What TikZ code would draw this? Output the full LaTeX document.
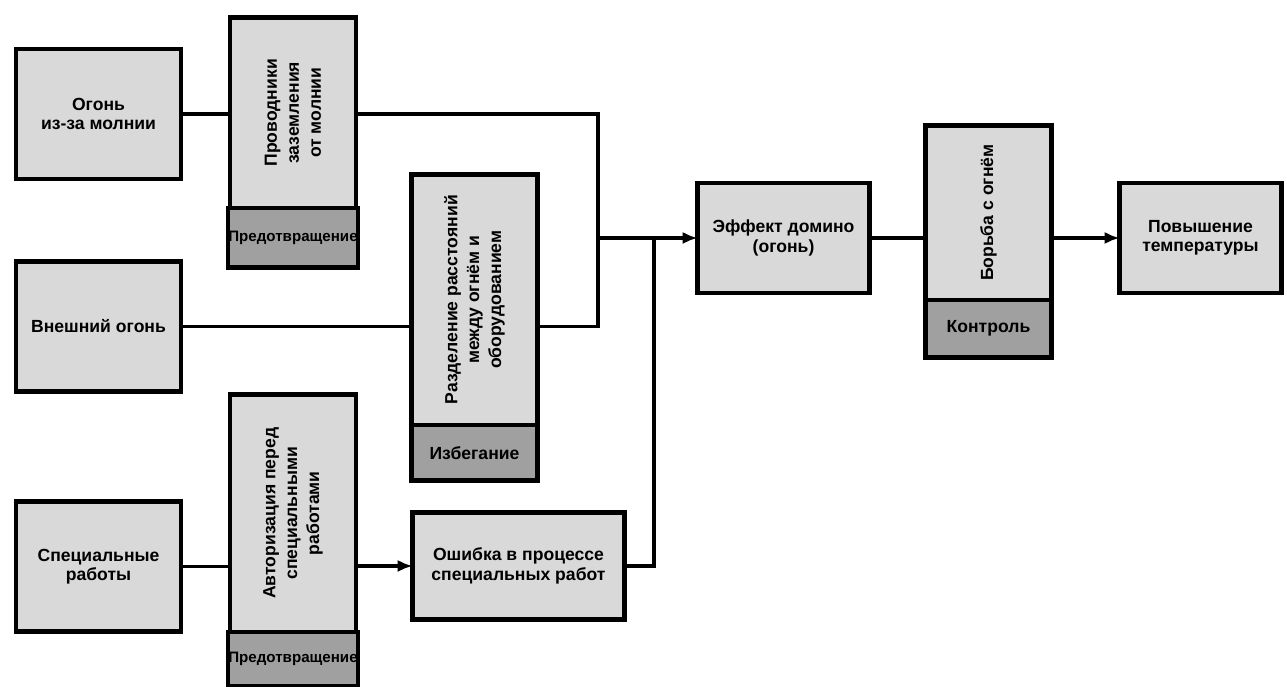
\documentclass[tikz,border=0pt]{standalone}
\usepackage{fontspec}
\setmainfont{Liberation Sans}
\usetikzlibrary{positioning, arrows.meta}
\definecolor{boxgray}{RGB}{217,217,217}
\definecolor{footgray}{RGB}{160,160,160}

\begin{document}
\begin{tikzpicture}[blk/.style={rectangle, draw, line width=2.4pt, fill=boxgray, inner sep=0pt, outer sep=0pt, align=center, font=\bfseries\fontsize{10}{11}\selectfont},
  src/.style={blk, minimum width=3.3cm, minimum height=2.6cm},
  bar/.style={blk, minimum width=2.52cm},
  foot/.style={blk, fill=footgray, minimum width=2.52cm},
  vtxt/.style={rotate=90, align=center, inner sep=0pt, font=\bfseries\fontsize{10}{12.5}\selectfont},
  wire/.style={line width=2.2pt},
  >={Latex[length=8.5pt,width=7pt]}]
  \useasboundingbox (0,0) rectangle (25.74,13.74);

  % sources
  \draw (1.97,11.46) node[src](ogn) {Огонь\\из-за молнии};
  \draw (1.97,7.21)  node[src](vns) {Внешний огонь};
  \draw (1.97,2.41)  node[src](spr) {Специальные\\работы};

  % barriers
  \draw (5.86,11.485) node[bar, minimum height=3.81cm](zaz) {};
  \node[foot, minimum height=1.19cm, font=\bfseries\fontsize{8.6}{10}\selectfont, below=0pt of zaz](zazf) {Предотвращение};
  \node[vtxt](zazt) at (zaz) {Проводники\\заземления\\от молнии};

  \draw (9.49,7.745) node[bar, minimum height=5.01cm](rzd) {};
  \node[foot, minimum height=1.11cm, below=0pt of rzd](rzdf) {Избегание};
  \node[vtxt](rzdt) at (rzd) {Разделение расстояний\\между огнём и\\оборудованием};

  \draw (5.86,3.475) node[bar, minimum height=4.75cm](avt) {};
  \node[foot, minimum height=1.08cm, font=\bfseries\fontsize{8.6}{10}\selectfont, below=0pt of avt](avtf) {Предотвращение};
  \node[vtxt](avtt) at (avt) {Авторизация перед\\специальными\\работами};

  \draw (19.77,9.485) node[bar, minimum height=3.49cm](brb) {};
  \node[foot, minimum height=1.15cm, below=0pt of brb](brbf) {Контроль};
  \node[vtxt](brbt) at (brb) {Борьба с огнём};

  % events
  \draw (10.37,2.42) node[blk, minimum width=4.24cm, minimum height=2.14cm](osh) {Ошибка в процессе\\специальных работ};
  \draw (15.67,8.98) node[blk, minimum width=3.44cm, minimum height=2.2cm](dom) {Эффект домино\\(огонь)};
  \draw (24.01,8.98) node[blk, minimum width=3.24cm, minimum height=2.2cm](tmp) {Повышение\\температуры};

  \coordinate (j1) at (11.96,8.98);
  \coordinate (j2) at (13.08,8.98);

  % wires
  \draw[wire] (ogn.east) -- (ogn.east -| zaz.west);
  \draw[wire] (vns.east) -- (vns.east -| rzd.west);
  \draw[wire] (spr.east) -- (spr.east -| avt.west);
  \draw[wire] (ogn.east -| zaz.east) -| (vns.east -| j1) -- (vns.east -| rzd.east);
  \draw[wire, ->] (j1) -- (dom.west);
  \draw[wire] (j2) |- (osh.east);
  \draw[wire, ->] (osh.west -| avt.east) -- (osh.west);
  \draw[wire] (dom.east) -- (dom.east -| brb.west);
  \draw[wire, ->] (dom.east -| brb.east) -- (tmp.west);
\end{tikzpicture}
\end{document}
